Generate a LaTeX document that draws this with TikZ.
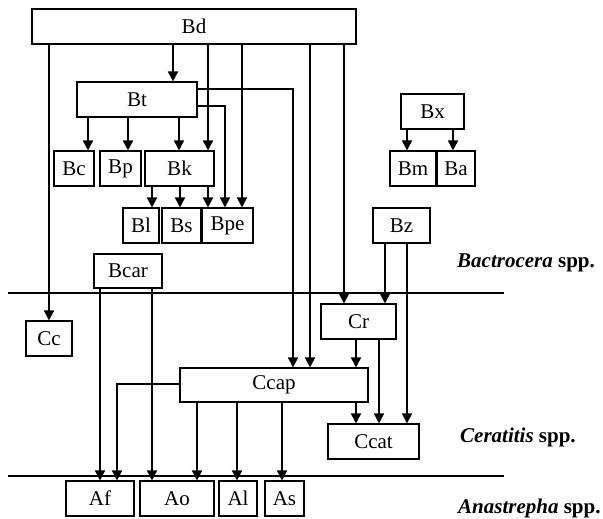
\documentclass[tikz,border=0pt]{standalone}
\usepackage{fontspec}
\setmainfont{Liberation Serif}
\usetikzlibrary{arrows.meta}
\begin{document}
\begin{tikzpicture}[x=1pt,y=-1pt,
  box/.style={draw, line width=1.1pt, inner sep=0pt, minimum height=35pt, font=\fontsize{21}{24}\selectfont},
  arr/.style={line width=1.7pt, -{Triangle[length=10pt,width=10pt]}},
  sep/.style={line width=1.1pt},
  lbl/.style={anchor=west, inner sep=0pt, font=\fontsize{21}{24}\selectfont\bfseries}]
\useasboundingbox (0,0) rectangle (603,519);
% Bactrocera
\node[box, minimum width=324pt] (Bd) at (194,26.5) {Bd};
\node[box, minimum width=120pt] (Bt) at (137,99.5) {Bt};
\node[box, minimum width=40pt] (Bc) at (74,168.5) {Bc};
\node[box, minimum width=41pt] (Bp) at (120.5,168.5) {Bp};
\node[box, minimum width=69pt] (Bk) at (179.5,168.5) {Bk};
\node[box, minimum width=36pt] (Bl) at (141,225.5) {Bl};
\node[box, minimum width=39pt] (Bs) at (181.5,225.5) {Bs};
\node[box, minimum width=51pt] (Bpe) at (227.5,225.5) {Bpe};
\node[box, minimum width=63pt] (Bx) at (432.5,111.5) {Bx};
\node[box, minimum width=46pt] (Bm) at (413,168.5) {Bm};
\node[box, minimum width=38pt] (Ba) at (456,168.5) {Ba};
\node[box, minimum width=57pt] (Bz) at (401.5,225.5) {Bz};
\node[box, minimum width=68pt, minimum height=34pt] (Bcar) at (128,271) {Bcar};
% Ceratitis
\node[box, minimum width=46pt] (Cc) at (49,338.5) {Cc};
\node[box, minimum width=75pt] (Cr) at (358.5,321.5) {Cr};
\node[box, minimum width=188pt, minimum height=34pt] (Ccap) at (274,385) {Ccap};
\node[box, minimum width=91pt] (Ccat) at (373.5,441.5) {Ccat};
% Anastrepha
\node[box, minimum width=68pt] (Af) at (100,498.5) {Af};
\node[box, minimum width=74pt] (Ao) at (177,498.5) {Ao};
\node[box, minimum width=38pt] (Al) at (238,498.5) {Al};
\node[box, minimum width=39pt] (As) at (284.5,498.5) {As};
% separators
\coordinate (s1a) at (8,293);
\coordinate (s1b) at (504,293);
\coordinate (s2a) at (8,476);
\coordinate (s2b) at (504,476);
\draw[sep] (s1a) -- (s1b);
\draw[sep] (s2a) -- (s2b);
% labels
\node[lbl] (LB) at (457,263) {\textit{Bactrocera} spp.};
\node[lbl] (LC) at (460,437) {\textit{Ceratitis} spp.};
\node[lbl] (LA) at (458,508) {\textit{Anastrepha} spp.};
% connectors from Bd
\draw[arr] (Bd.south -| Cc.north) -- (Cc.north);
\draw[arr] (Bd.south -| 173,0) -- (Bt.north -| 173,0);
\draw[arr] (Bd.south -| 208,0) -- (Bk.north -| 208,0);
\draw[arr] (Bd.south -| 242,0) -- (Bpe.north -| 242,0);
\draw[arr] (Bd.south -| 310,0) -- (Ccap.north -| 310,0);
\draw[arr] (Bd.south -| 344,0) -- (Cr.north -| 344,0);
% from Bt
\draw[arr] (Bt.south -| 88,0) -- (Bc.north -| 88,0);
\draw[arr] (Bt.south -| 128,0) -- (Bp.north -| 128,0);
\draw[arr] (Bt.south -| 179,0) -- (Bk.north -| 179,0);
\draw[arr] (Bt.east |- 0,89) -| (Ccap.north -| 293,0);
\draw[arr] (Bt.east |- 0,106) -| (Bpe.north -| 225,0);
% from Bk
\draw[arr] (Bk.south -| 152,0) -- (Bl.north -| 152,0);
\draw[arr] (Bk.south -| 180,0) -- (Bs.north -| 180,0);
\draw[arr] (Bk.south -| 208,0) -- (Bpe.north -| 208,0);
% from Bx
\draw[arr] (Bx.south -| 407,0) -- (Bm.north -| 407,0);
\draw[arr] (Bx.south -| 453,0) -- (Ba.north -| 453,0);
% from Bz
\draw[arr] (Bz.south -| 385,0) -- (Cr.north -| 385,0);
\draw[arr] (Bz.south -| 407,0) -- (Ccat.north -| 407,0);
% from Bcar
\draw[arr] (Bcar.south -| 100,0) -- (Af.north -| 100,0);
\draw[arr] (Bcar.south -| 152,0) -- (Ao.north -| 152,0);
% from Cr
\draw[arr] (Cr.south -| 356,0) -- (Ccap.north -| 356,0);
\draw[arr] (Cr.south -| 379,0) -- (Ccat.north -| 379,0);
% from Ccap
\draw[arr] (Ccap.west |- 0,384) -| (Af.north -| 117,0);
\draw[arr] (Ccap.south -| 197,0) -- (Ao.north -| 197,0);
\draw[arr] (Ccap.south -| 237,0) -- (Al.north -| 237,0);
\draw[arr] (Ccap.south -| 282,0) -- (As.north -| 282,0);
\draw[arr] (Ccap.south -| 356,0) -- (Ccat.north -| 356,0);
\end{tikzpicture}
\end{document}
